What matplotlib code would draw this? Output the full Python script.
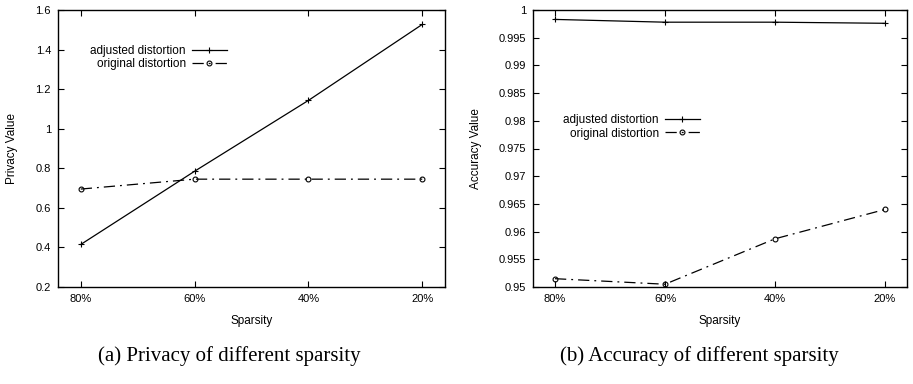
import matplotlib

matplotlib.use("Agg")
import matplotlib.pyplot as plt

sparsity = ["80%", "60%", "40%", "20%"]
privacy_adjusted = [0.415, 0.785, 1.143, 1.527]
privacy_original = [0.695, 0.745, 0.745, 0.745]
accuracy_adjusted = [0.9983, 0.9978, 0.9978, 0.9976]
accuracy_original = [0.9515, 0.9505, 0.9587, 0.9640]

privacy_ticks = [0.2, 0.4, 0.6, 0.8, 1.0, 1.2, 1.4, 1.6]
privacy_ticklabels = ["0.2", "0.4", "0.6", "0.8", "1", "1.2", "1.4", "1.6"]
accuracy_ticks = [0.95, 0.955, 0.96, 0.965, 0.97, 0.975, 0.98, 0.985, 0.99, 0.995, 1.0]
accuracy_ticklabels = ["0.95", "0.955", "0.96", "0.965", "0.97", "0.975",
                       "0.98", "0.985", "0.99", "0.995", "1"]

plt.rcParams["font.family"] = ["Liberation Sans", "DejaVu Sans"]

fig = plt.figure(figsize=(9.13, 3.84), dpi=100)
W, H = 913, 384


def box(x0, y0, x1, y1):
    return [x0 / W, 1 - y1 / H, (x1 - x0) / W, (y1 - y0) / H]


ax1 = fig.add_axes(box(58, 10, 445, 287))
ax2 = fig.add_axes(box(533, 10, 907, 287))

x = list(range(len(sparsity)))
dashdot = (0, (9, 4, 1.5, 4))


def style(ax, ticks, labels, ylim, ylabel, ylabelpad):
    ax.set_xlim(-0.2, len(sparsity) - 0.8)
    ax.set_ylim(*ylim)
    ax.set_xticks(x)
    ax.set_xticklabels(sparsity)
    ax.set_yticks(ticks)
    ax.set_yticklabels(labels)
    ax.tick_params(direction="in", top=True, right=True, length=4, width=0.8,
                   labelsize=8, pad=5)
    for s in ax.spines.values():
        s.set_linewidth(1.0)
    ax.set_xlabel("Sparsity", fontsize=8.5, labelpad=8)
    ax.set_ylabel(ylabel, fontsize=8.5, labelpad=ylabelpad)


for ax, adj, orig in [(ax1, privacy_adjusted, privacy_original),
                      (ax2, accuracy_adjusted, accuracy_original)]:
    ax.plot(x, adj, color="black", lw=0.9, marker="+", ms=5, mew=0.8,
            label="adjusted distortion")
    ax.plot(x, orig, color="black", lw=0.9, ls=dashdot, marker="o", ms=3.5,
            mfc="none", mew=0.8, label="original distortion")

style(ax1, privacy_ticks, privacy_ticklabels, (0.2, 1.6), "Privacy Value", 13)
style(ax2, accuracy_ticks, accuracy_ticklabels, (0.95, 1.0), "Accuracy Value", 12)

ax1.legend(loc="center right", bbox_to_anchor=((233 - 58) / 387, 1 - (57.5 - 10) / 277),
           frameon=False, markerfirst=False, fontsize=8.5, handlelength=3.0,
           handletextpad=0.5, labelspacing=0.1, borderpad=0)
ax2.legend(loc="center right", bbox_to_anchor=((706 - 533) / 374, 1 - (127 - 10) / 277),
           frameon=False, markerfirst=False, fontsize=8.5, handlelength=3.0,
           handletextpad=0.5, labelspacing=0.1, borderpad=0)

fig.text(229 / W, 1 - 356 / H, "(a) Privacy of different sparsity",
         family="Liberation Serif", fontsize=15, ha="center", va="center")
fig.text(699 / W, 1 - 356 / H, "(b) Accuracy of different sparsity",
         family="Liberation Serif", fontsize=15, ha="center", va="center")

fig.savefig("out.png", dpi=100)
